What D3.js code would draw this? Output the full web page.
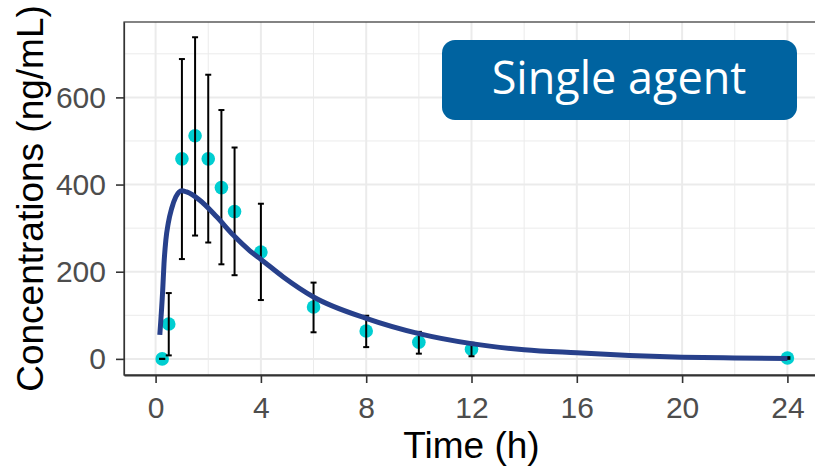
<!DOCTYPE html>
<html>
<head>
<meta charset="utf-8">
<script src="https://cdn.jsdelivr.net/npm/d3@7"></script>
<style>
  body { margin: 0; background: #ffffff; }
  svg { display: block; }
</style>
</head>
<body>
<div id="viz"><svg class="pk-svg"></svg></div>
<script>
'use strict'

// observed data (mean +/- sd)
const obsTime = [0.25, 0.5, 1, 1.5, 2, 2.5, 3, 4, 6, 8, 10, 12, 24]
const obsMean = [0, 80, 459, 512, 459, 393, 338, 245, 119, 64, 38, 22, 2]
const obsLow = [0, 8, 229, 283, 267, 217, 192, 135, 61, 27, 12, 6, 0]
const obsHigh = [0, 151, 688, 738, 652, 571, 485, 356, 175, 99, 62, 37, 4]

// model prediction
const predTime = [0.16, 0.27, 0.32, 0.39, 0.48, 0.61, 0.77, 0.99, 1.18, 1.68, 2.32, 2.95, 3.58, 4.03, 4.85, 6, 8, 10, 12, 14, 16, 18, 20, 22, 24]
const predConc = [55, 158, 219, 273, 311, 345, 372, 386, 383, 364, 326, 284, 248, 227, 188, 142, 93, 58, 35, 21, 14, 8, 4, 2, 1]

const xTicks = [0, 4, 8, 12, 16, 20, 24]
const xMinor = [2, 6, 10, 14, 18, 22]
const yTicks = [0, 200, 400, 600]
const yMinor = [100, 300, 500, 700]

const xTitle = 'Time (h)'
const yTitle = 'Concentrations (ng/mL)'
const badgeLabel = 'Single agent'

const width = 815
const height = 469
const panel = { left: 124, right: 819, top: 22, bottom: 375 }

const svg = d3.select('.pk-svg')
  .attr('width', width)
  .attr('height', height)

const x = d3.scaleLinear().domain([-1.2, 25.2]).range([panel.left, panel.right])
const y = d3.scaleLinear().domain([-37, 773]).range([panel.bottom, panel.top])

/**
 * Draws the grid lines of the panel.
 */
function drawGrid (g) {
  g.selectAll('.minor-x').data(xMinor).enter().append('line')
    .attr('x1', d => x(d)).attr('x2', d => x(d))
    .attr('y1', panel.top).attr('y2', panel.bottom)
    .attr('stroke', '#ebebeb').attr('stroke-width', 1)
  g.selectAll('.minor-y').data(yMinor).enter().append('line')
    .attr('y1', d => y(d)).attr('y2', d => y(d))
    .attr('x1', panel.left).attr('x2', panel.right)
    .attr('stroke', '#ebebeb').attr('stroke-width', 1)
  g.selectAll('.major-x').data(xTicks).enter().append('line')
    .attr('x1', d => x(d)).attr('x2', d => x(d))
    .attr('y1', panel.top).attr('y2', panel.bottom)
    .attr('stroke', '#ebebeb').attr('stroke-width', 2)
  g.selectAll('.major-y').data(yTicks).enter().append('line')
    .attr('y1', d => y(d)).attr('y2', d => y(d))
    .attr('x1', panel.left).attr('x2', panel.right)
    .attr('stroke', '#ebebeb').attr('stroke-width', 2)
}

/**
 * Draws both axes with ticks and labels.
 */
function drawAxes (g) {
  const xAxis = g.append('g')
    .attr('transform', 'translate(0,' + panel.bottom + ')')
    .call(d3.axisBottom(x).tickValues(xTicks).tickSize(8).tickPadding(14).tickSizeOuter(0))
  const yAxis = g.append('g')
    .attr('transform', 'translate(' + panel.left + ',0)')
    .call(d3.axisLeft(y).tickValues(yTicks).tickSize(8).tickPadding(10).tickSizeOuter(0))

  ;[xAxis, yAxis].forEach(a => {
    a.selectAll('.tick line').attr('stroke', '#333333').attr('stroke-width', 1.6)
    a.selectAll('.tick text')
      .attr('fill', '#4d4d4d')
      .style('font-family', '"Liberation Sans", Arial, sans-serif')
      .style('font-size', '30px')
  })
  xAxis.select('.domain').attr('stroke', '#333333').attr('stroke-width', 2.2)
  yAxis.select('.domain').attr('stroke', '#333333').attr('stroke-width', 1.2)

  g.append('text')
    .attr('x', (panel.left + panel.right) / 2)
    .attr('y', 458)
    .attr('text-anchor', 'middle')
    .style('font-family', '"Liberation Sans", Arial, sans-serif')
    .style('font-size', '37px')
    .attr('fill', '#000000')
    .text(xTitle)

  g.append('text')
    .attr('transform', 'translate(43,' + ((panel.top + panel.bottom) / 2) + ') rotate(-90)')
    .attr('text-anchor', 'middle')
    .style('font-family', '"Liberation Sans", Arial, sans-serif')
    .style('font-size', '37px')
    .attr('fill', '#000000')
    .text(yTitle)
}

/**
 * Draws the observed points, their error bars and the model curve.
 */
function drawData (g) {
  const obs = obsTime.map((t, i) => ({ t: t, m: obsMean[i], lo: obsLow[i], hi: obsHigh[i] }))
  const pred = predTime.map((t, i) => ({ t: t, c: predConc[i] }))

  g.selectAll('.obs-point').data(obs).enter().append('circle')
    .attr('class', 'obs-point')
    .attr('cx', d => x(d.t))
    .attr('cy', d => y(d.m))
    .attr('r', 6.8)
    .attr('fill', '#00ced1')

  const cap = 3
  const bars = g.selectAll('.err').data(obs).enter().append('g').attr('class', 'err')
    .attr('stroke', '#000000').attr('stroke-width', 2)
  bars.append('line')
    .attr('x1', d => x(d.t)).attr('x2', d => x(d.t))
    .attr('y1', d => y(d.lo)).attr('y2', d => y(d.hi))
  bars.append('line')
    .attr('x1', d => x(d.t) - cap).attr('x2', d => x(d.t) + cap)
    .attr('y1', d => y(d.lo)).attr('y2', d => y(d.lo))
  bars.append('line')
    .attr('x1', d => x(d.t) - cap).attr('x2', d => x(d.t) + cap)
    .attr('y1', d => y(d.hi)).attr('y2', d => y(d.hi))

  const line = d3.line()
    .x(d => x(d.t))
    .y(d => y(d.c))
    .curve(d3.curveMonotoneX)

  g.append('path')
    .datum(pred)
    .attr('d', line)
    .attr('fill', 'none')
    .attr('stroke', '#27408b')
    .attr('stroke-width', 5)
}

function drawBadge (g) {
  const b = g.append('g')
  b.append('rect')
    .attr('x', 442).attr('y', 40)
    .attr('width', 355).attr('height', 80)
    .attr('rx', 13).attr('ry', 13)
    .attr('fill', '#0063a0')
  b.append('text')
    .attr('x', 619).attr('y', 94)
    .attr('text-anchor', 'middle')
    .style('font-family', '"Open Sans", sans-serif')
    .style('font-size', '45px')
    .attr('fill', '#ffffff')
    .text(badgeLabel)
}

const g = svg.append('g')
g.append('rect')
  .attr('x', panel.left).attr('y', panel.top)
  .attr('width', panel.right - panel.left).attr('height', panel.bottom - panel.top)
  .attr('fill', '#ffffff')
drawGrid(g)
drawData(g)
g.append('rect')
  .attr('x', panel.left).attr('y', panel.top)
  .attr('width', panel.right - panel.left).attr('height', panel.bottom - panel.top)
  .attr('fill', 'none')
  .attr('stroke', '#333333').attr('stroke-width', 1.2)
drawAxes(g)
drawBadge(g)
</script>
</body>
</html>
